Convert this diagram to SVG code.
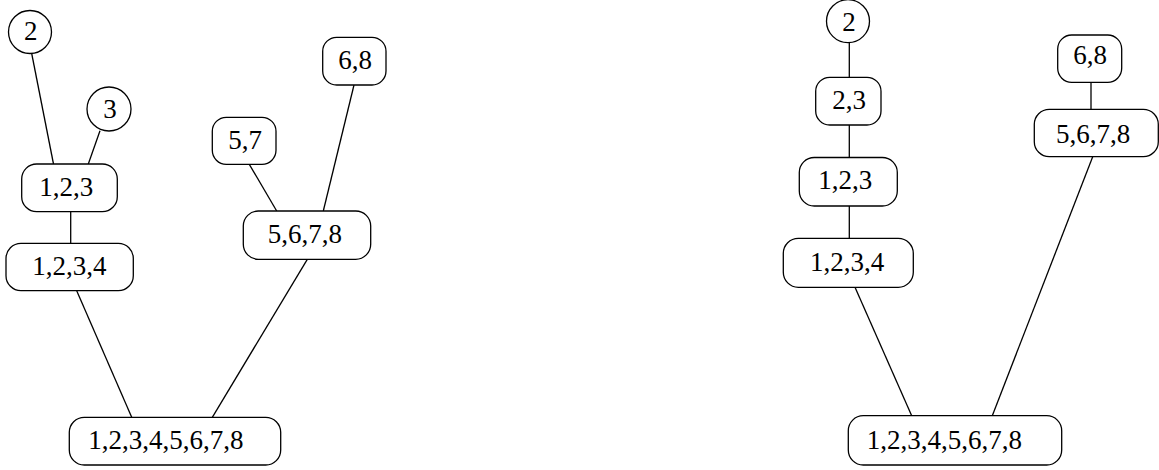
<svg xmlns="http://www.w3.org/2000/svg" width="1159" height="470" viewBox="0 0 1159 470">
<style>
  .n { fill: #fff; stroke: #000; stroke-width: 1.3; }
  .t { font-family: "Liberation Serif", "Times New Roman", serif; font-size: 27px; fill: #000; }
  .e { stroke: #000; stroke-width: 1.3; fill: none; }
</style>
<rect width="1159" height="470" fill="#fff"/>
<g id="connectors">
  <line class="e" x1="31.5" y1="52.5" x2="53.5" y2="164"/>
  <line class="e" x1="100" y1="130.7" x2="88.3" y2="164"/>
  <line class="e" x1="70.7" y1="211.7" x2="70.7" y2="243.3"/>
  <line class="e" x1="76.7" y1="290.7" x2="131.7" y2="417.3"/>
  <line class="e" x1="307.3" y1="259.3" x2="212.3" y2="417.3"/>
  <line class="e" x1="249.3" y1="164.3" x2="276.7" y2="211"/>
  <line class="e" x1="354" y1="85" x2="323.3" y2="211"/>
  <line class="e" x1="849.3" y1="42.7" x2="849.3" y2="77.3"/>
  <line class="e" x1="849.3" y1="125" x2="849.3" y2="157.5"/>
  <line class="e" x1="849.3" y1="206" x2="849.3" y2="238.3"/>
  <line class="e" x1="855" y1="287.3" x2="911.7" y2="415.7"/>
  <line class="e" x1="1092.7" y1="156.7" x2="992.3" y2="415.7"/>
  <line class="e" x1="1091" y1="82.3" x2="1091" y2="109.3"/>
</g>
<g id="L_c2"><circle class="n" cx="30" cy="32" r="21.5"/><text class="t" x="24" y="40">2</text></g>
<g id="L_c3"><circle class="n" cx="109" cy="109" r="22"/><text class="t" x="103.3" y="118.3">3</text></g>
<g id="L_123"><rect class="n" x="21.7" y="164" width="95.6" height="47.7" rx="15"/><text class="t" x="39.3" y="196">1,2,3</text></g>
<g id="L_1234"><rect class="n" x="6" y="243.3" width="127.3" height="47.4" rx="15"/><text class="t" x="32.3" y="275">1,2,3,4</text></g>
<g id="L_all"><rect class="n" x="69.3" y="417.3" width="211.4" height="47.7" rx="15"/><text class="t" x="88.3" y="449.3">1,2,3,4,5,6,7,8</text></g>
<g id="L_5678"><rect class="n" x="243.3" y="211" width="127.4" height="48.3" rx="15"/><text class="t" x="267.7" y="243.3">5,6,7,8</text></g>
<g id="L_57"><rect class="n" x="212.3" y="117.3" width="63.7" height="47" rx="14"/><text class="t" x="228.3" y="148.5">5,7</text></g>
<g id="L_68"><rect class="n" x="322.7" y="37.3" width="63.3" height="47.7" rx="14"/><text class="t" x="338.3" y="69.3">6,8</text></g>
<g id="R_c2"><circle class="n" cx="848" cy="21.2" r="21.5"/><text class="t" x="842.3" y="30.7">2</text></g>
<g id="R_23"><rect class="n" x="815.7" y="77.3" width="65.3" height="47.7" rx="14"/><text class="t" x="832.3" y="109.3">2,3</text></g>
<g id="R_123"><rect class="n" x="799.3" y="157.5" width="98" height="48.5" rx="15"/><text class="t" x="818.3" y="189.3">1,2,3</text></g>
<g id="R_1234"><rect class="n" x="783.3" y="238.3" width="130" height="49" rx="15"/><text class="t" x="810" y="270.7">1,2,3,4</text></g>
<g id="R_all"><rect class="n" x="848.3" y="415.7" width="213.4" height="49.3" rx="15"/><text class="t" x="866.7" y="449.3">1,2,3,4,5,6,7,8</text></g>
<g id="R_68"><rect class="n" x="1057.7" y="35" width="64" height="47.3" rx="14"/><text class="t" x="1073.3" y="64">6,8</text></g>
<g id="R_5678"><rect class="n" x="1034.3" y="109.3" width="124" height="47.4" rx="15"/><text class="t" x="1056" y="143.3">5,6,7,8</text></g>
</svg>
